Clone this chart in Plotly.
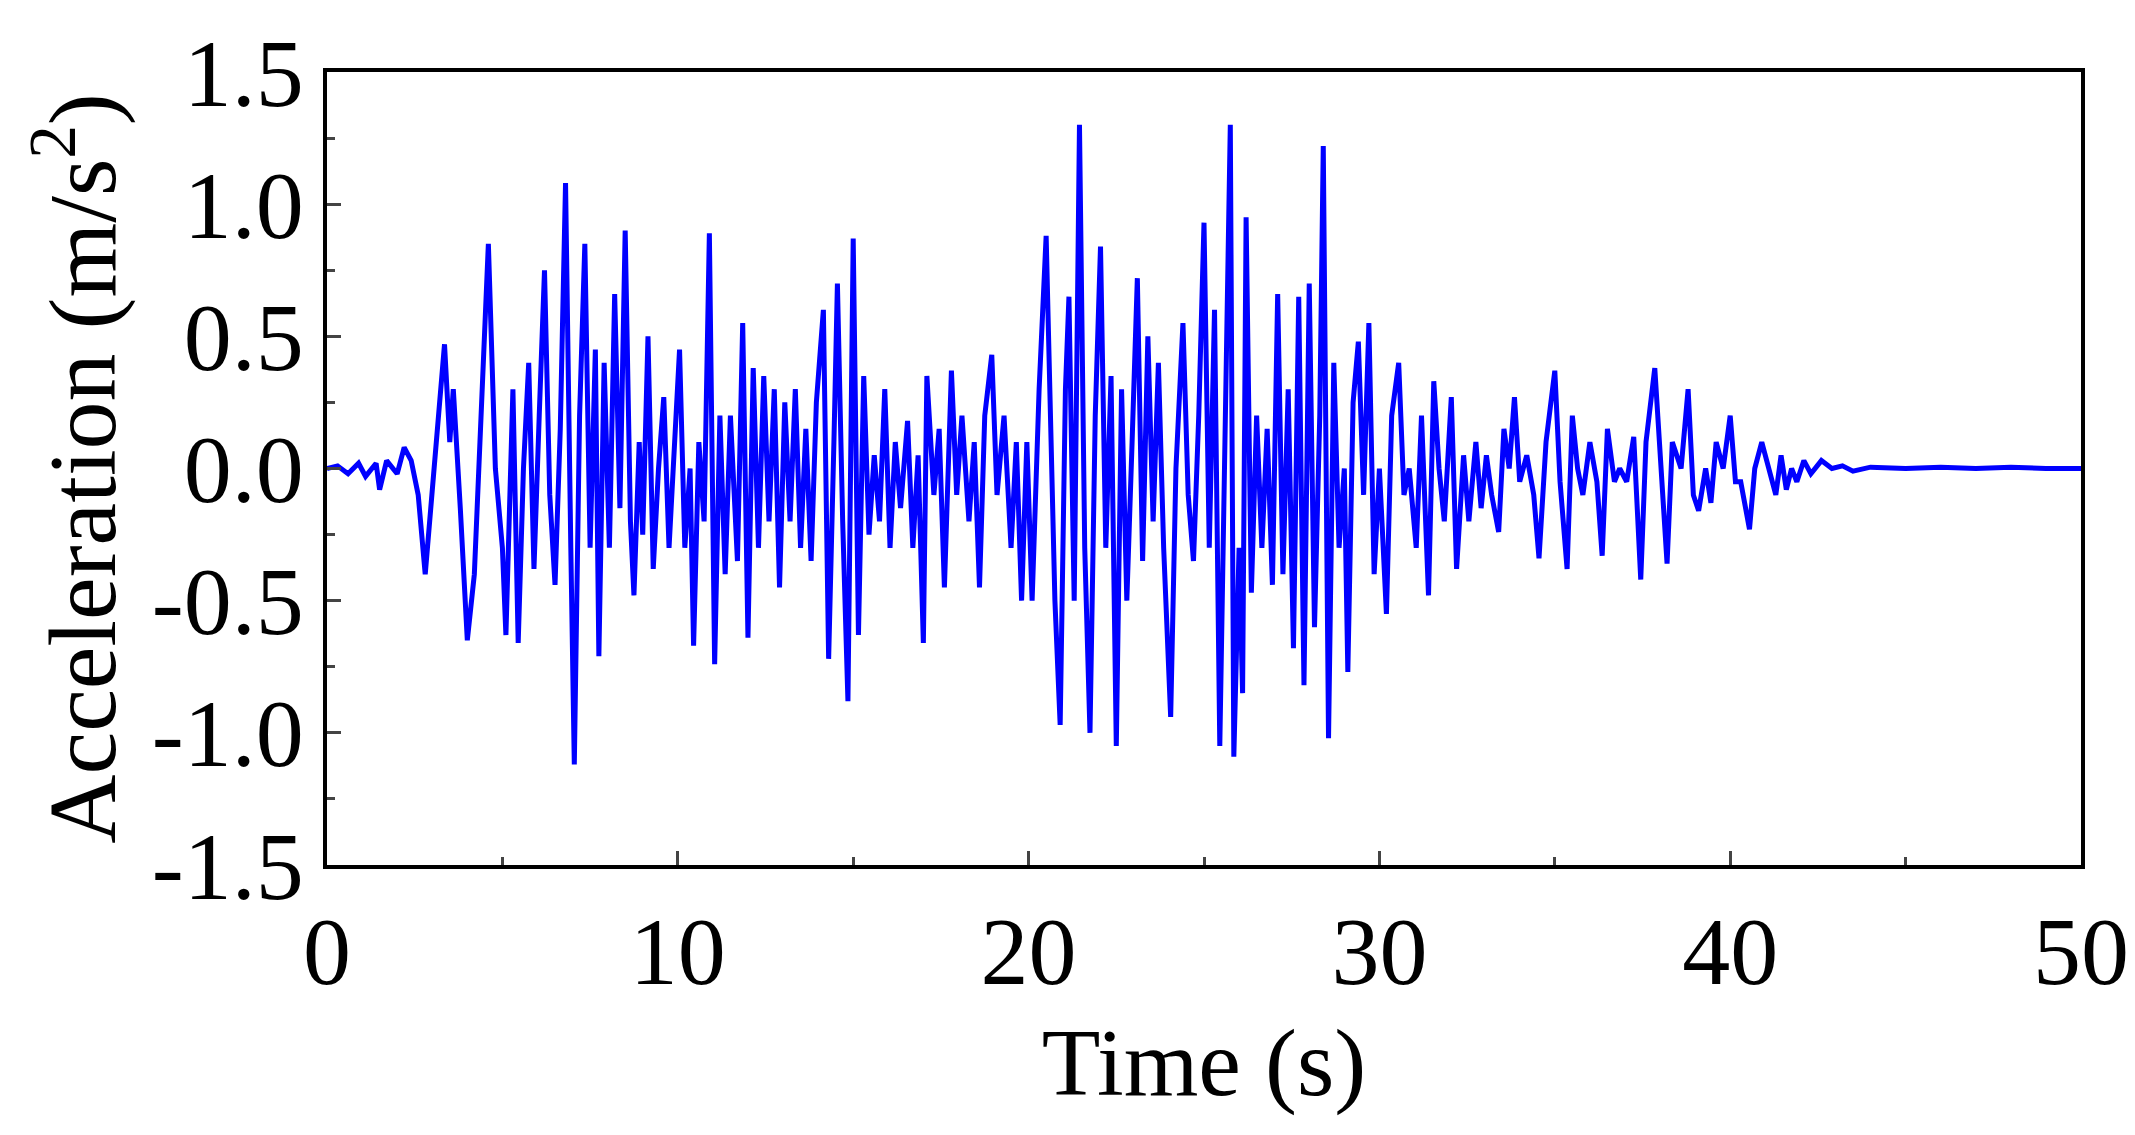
import plotly.graph_objects as go

time_s = [0,0.3,0.6,0.9,1.1,1.4,1.5,1.7,2.0,2.2,2.4,2.6,2.8,3.0,3.2,3.35,3.5,3.6,3.8,4.0,4.2,4.4,4.6,4.8,5.0,5.1,5.3,5.45,5.6,5.75,5.9,6.05,6.2,6.35,6.5,6.65,6.8,6.95,7.05,7.2,7.35,7.5,7.65,7.75,7.9,8.05,8.2,8.35,8.5,8.65,8.75,8.9,9.0,9.15,9.3,9.45,9.6,9.75,9.9,10.05,10.2,10.35,10.45,10.6,10.75,10.9,11.05,11.2,11.35,11.5,11.7,11.85,12.0,12.15,12.3,12.45,12.6,12.75,12.9,13.05,13.2,13.35,13.5,13.65,13.8,13.95,14.15,14.3,14.45,14.55,14.7,14.85,15.0,15.15,15.3,15.45,15.6,15.75,15.9,16.05,16.2,16.35,16.55,16.7,16.85,17.0,17.1,17.3,17.45,17.6,17.8,17.95,18.1,18.3,18.45,18.6,18.75,18.95,19.1,19.3,19.5,19.65,19.8,19.95,20.1,20.3,20.5,20.65,20.75,20.9,21.05,21.15,21.3,21.45,21.6,21.75,21.9,22.05,22.2,22.35,22.5,22.65,22.8,22.95,23.1,23.25,23.4,23.55,23.7,23.85,24.05,24.2,24.4,24.55,24.7,24.85,25.0,25.15,25.3,25.45,25.6,25.75,25.85,26.0,26.1,26.2,26.35,26.5,26.65,26.8,26.95,27.1,27.25,27.4,27.55,27.7,27.85,28.0,28.15,28.3,28.4,28.55,28.7,28.85,29.0,29.1,29.25,29.4,29.55,29.7,29.85,30.0,30.2,30.35,30.55,30.7,30.85,31.05,31.2,31.4,31.55,31.7,31.85,32.05,32.2,32.4,32.55,32.75,32.9,33.05,33.2,33.4,33.55,33.7,33.85,34.0,34.2,34.4,34.55,34.75,35.0,35.15,35.35,35.5,35.65,35.8,36.0,36.2,36.35,36.5,36.7,36.85,37.05,37.25,37.45,37.6,37.85,38.0,38.2,38.35,38.6,38.8,38.95,39.1,39.3,39.45,39.6,39.8,40.0,40.15,40.3,40.55,40.7,40.9,41.1,41.3,41.45,41.6,41.75,41.9,42.1,42.3,42.6,42.9,43.2,43.5,44,45,46,47,48,49,50]
accel = [0,0.01,-0.02,0.02,-0.03,0.02,-0.08,0.03,-0.02,0.08,0.03,-0.1,-0.4,-0.1,0.2,0.47,0.1,0.3,-0.15,-0.65,-0.4,0.2,0.85,0.0,-0.3,-0.63,0.3,-0.66,0.0,0.4,-0.38,0.2,0.75,-0.1,-0.44,0.15,1.08,-0.3,-1.12,0.2,0.85,-0.3,0.45,-0.71,0.4,-0.3,0.66,-0.15,0.9,-0.2,-0.48,0.1,-0.25,0.5,-0.38,0.0,0.27,-0.3,0.1,0.45,-0.3,0.0,-0.67,0.1,-0.2,0.89,-0.74,0.2,-0.4,0.2,-0.35,0.55,-0.64,0.38,-0.3,0.35,-0.2,0.3,-0.45,0.25,-0.2,0.3,-0.3,0.15,-0.35,0.25,0.6,-0.72,0.1,0.7,-0.2,-0.88,0.87,-0.63,0.35,-0.25,0.05,-0.2,0.3,-0.3,0.1,-0.15,0.18,-0.3,0.05,-0.66,0.35,-0.1,0.15,-0.45,0.37,-0.1,0.2,-0.2,0.1,-0.45,0.2,0.43,-0.1,0.2,-0.3,0.1,-0.5,0.1,-0.5,0.3,0.88,0.1,-0.5,-0.97,0.3,0.65,-0.5,1.3,-0.3,-1.0,0.2,0.84,-0.3,0.35,-1.05,0.3,-0.5,0.1,0.72,-0.35,0.5,-0.2,0.4,-0.3,-0.94,0.0,0.55,-0.1,-0.35,0.2,0.93,-0.3,0.6,-1.05,0.2,1.3,-1.09,-0.3,-0.85,0.95,-0.47,0.2,-0.3,0.15,-0.44,0.66,-0.4,0.3,-0.68,0.65,-0.82,0.7,-0.6,0.2,1.22,-1.02,0.4,-0.3,0.0,-0.77,0.25,0.48,-0.1,0.55,-0.4,0.0,-0.55,0.2,0.4,-0.1,0.0,-0.3,0.2,-0.48,0.33,0.0,-0.2,0.27,-0.38,0.05,-0.2,0.1,-0.15,0.05,-0.1,-0.24,0.15,0.0,0.27,-0.05,0.05,-0.1,-0.34,0.1,0.37,-0.05,-0.38,0.2,0.0,-0.1,0.1,-0.05,-0.33,0.15,-0.05,0.0,-0.05,0.12,-0.42,0.1,0.38,0.05,-0.36,0.1,0.0,0.3,-0.1,-0.16,0.0,-0.13,0.1,0.0,0.2,-0.05,-0.05,-0.23,0.0,0.1,0.0,-0.1,0.05,-0.08,0.0,-0.05,0.03,-0.02,0.03,0.0,0.01,-0.01,0.005,0,0.005,0,0.005,0,0]

x_ticks = [0, 10, 20, 30, 40, 50]
y_ticks = [-1.5, -1.0, -0.5, 0.0, 0.5, 1.0, 1.5]

fig = go.Figure(go.Scatter(x=time_s, y=accel, mode="lines",
                           line=dict(color="#0000ff", width=5), showlegend=False))
font = dict(family="Liberation Serif", size=96, color="black")
fig.update_layout(
    width=2135, height=1135, plot_bgcolor="white", paper_bgcolor="white",
    margin=dict(l=319, r=62, t=58, b=278), font=font,
)
fig.update_xaxes(range=[0, 50], tickvals=x_ticks, ticktext=[str(v) for v in x_ticks],
                 ticks="inside", ticklen=14, tickwidth=3, showline=True, linewidth=4,
                 linecolor="black", mirror=True, showgrid=False, zeroline=False,
                 minor=dict(dtick=5, ticks="inside", ticklen=8, tickwidth=3),
                 title=dict(text="Time (s)", font=font, standoff=25))
fig.update_yaxes(range=[-1.5, 1.5], tickvals=y_ticks, ticktext=[f"{v:.1f}" for v in y_ticks],
                 ticks="inside", ticklen=14, tickwidth=3, showline=True, linewidth=4,
                 linecolor="black", mirror=True, showgrid=False, zeroline=False,
                 minor=dict(dtick=0.25, ticks="inside", ticklen=8, tickwidth=3),
                 title=dict(text="Acceleration (m/s<sup>2</sup>)", font=font, standoff=5))
fig.write_html("out.html")
